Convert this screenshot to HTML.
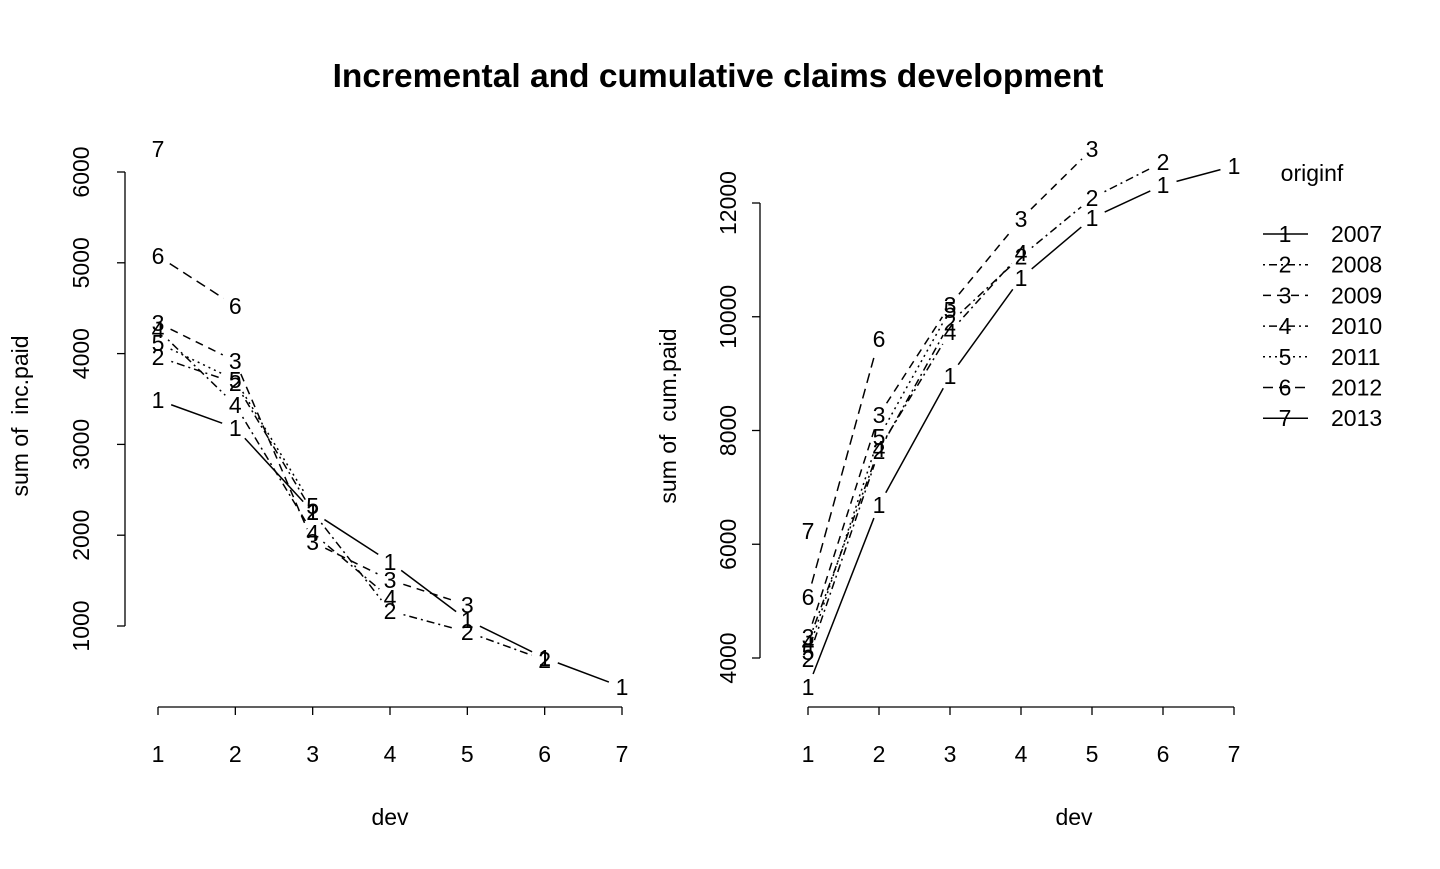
<!DOCTYPE html>
<html><head><meta charset="utf-8"><style>
body{margin:0;background:#fff}
svg text{font-family:"Liberation Sans",Arial,sans-serif;fill:#000;white-space:pre}
</style></head><body>
<svg id="chart" width="1440" height="864" xmlns="http://www.w3.org/2000/svg">
<text x="718" y="87" font-size="33.5" font-weight="bold" text-anchor="middle">Incremental and cumulative claims development</text>
<g id="left"></g>
<g id="right"></g>
<g id="legend"></g>
</svg>
<script>
const devs = [1,2,3,4,5,6,7];
const years = ["2007","2008","2009","2010","2011","2012","2013"];
const incPaid = [
 [3489,3181,2256,1705,1066,648,328],
 [3963,3676,2256,1165,934,626],
 [4337,3918,1925,1507,1231],
 [4260,3434,2024,1308],
 [4117,3709,2322],
 [5075,4524],
 [6253]
];
const cumPaid = [
 [3490,6690,8958,10681,11736,12316,12650],
 [3982,7639,9895,11060,12087,12720],
 [4369,8272,10206,11718,12949],
 [4264,7674,9731,11120],
 [4105,7885,10118],
 [5072,9608],
 [6233]
];
const incTicks = [1000,2000,3000,4000,5000,6000];
const cumTicks = [4000,6000,8000,10000,12000];
const dashes = ["", "2,4,8,4", "8,6", "2,4,8,4", "2,4", "10,6", ""];
const NS = "http://www.w3.org/2000/svg";
function mk(parent, tag, attrs, txt){
  const e = document.createElementNS(NS, tag);
  for (const k in attrs) e.setAttribute(k, attrs[k]);
  if (txt !== undefined) e.textContent = txt;
  parent.appendChild(e); return e;
}
function panel(g, data, ticks, cfg){
  const xs = d => cfg.x0 + (d-1)*(cfg.x1-cfg.x0)/6;
  const ys = v => cfg.yA + (v-cfg.vA)*(cfg.yB-cfg.yA)/(cfg.vB-cfg.vA);
  const ya = mk(g,"line",{x1:cfg.ax,x2:cfg.ax,y1:ys(ticks[0]),y2:ys(ticks[ticks.length-1]),stroke:"#000","stroke-width":1.3});
  
  
  ticks.forEach(t=>{
    const tk = mk(g,"line",{x1:cfg.ax-8,x2:cfg.ax,y1:ys(t),y2:ys(t),stroke:"#000","stroke-width":1.3});
    
    
    const lx = cfg.ax-cfg.lo, ly = ys(t);
    const lb = mk(g,"text",{x:lx,y:ly+8,"font-size":23,"text-anchor":"middle",transform:`rotate(-90 ${lx} ${ly})`},t);
    
    
  });
  const xa = mk(g,"line",{x1:xs(1),x2:xs(7),y1:707,y2:707,stroke:"#000","stroke-width":1.3});
  
  
  devs.forEach(d=>{
    const tk = mk(g,"line",{x1:xs(d),x2:xs(d),y1:707,y2:715,stroke:"#000","stroke-width":1.3});
    
    
    const lb = mk(g,"text",{x:xs(d),y:762,"font-size":23,"text-anchor":"middle"},d);
    
    
  });
  const xt = mk(g,"text",{x:cfg.dx,y:825,"font-size":23,"text-anchor":"middle"},"dev");
  
  
  const yt = mk(g,"text",{x:cfg.tx,y:424,"font-size":23,"text-anchor":"middle",transform:`rotate(-90 ${cfg.tx} 416)`},cfg.title);
  
  
  data.forEach((s,i)=>{
    for(let k=0;k<s.length-1;k++){
      const ax=xs(k+1), ay=ys(s[k]), bx=xs(k+2), by=ys(s[k+1]);
      const L=Math.hypot(bx-ax,by-ay), g2=14;
      if(L<=2*g2) continue;
      const ux=(bx-ax)/L, uy=(by-ay)/L;
      const ln = mk(g,"line",{x1:ax+ux*g2,y1:ay+uy*g2,x2:bx-ux*g2,y2:by-uy*g2,stroke:"#000","stroke-width":1.5,"stroke-dasharray":dashes[i]});
      
      
    }
    s.forEach((v,k)=>{
      const t = mk(g,"text",{x:xs(k+1),y:ys(v)+8,"font-size":23,"text-anchor":"middle"},i+1);
      
      
    });
  });
}
panel(document.getElementById('left'), incPaid, incTicks,
 {x0:158,x1:622,ax:125,lo:44,yA:626,vA:1000,yB:172,vB:6000,tx:20,dx:390,title:"sum of  inc.paid"});
panel(document.getElementById('right'), cumPaid, cumTicks,
 {x0:808,x1:1234,ax:760,lo:32,yA:658,vA:4000,yB:203,vB:12000,tx:668,dx:1074,title:"sum of  cum.paid"});
</script>
<script>
(function(){
  const lg = document.getElementById('legend');
  const t = document.createElementNS(NS,"text");
  t.setAttribute('x',1312); t.setAttribute('y',181); t.setAttribute('font-size',23); t.setAttribute('text-anchor','middle');
  t.textContent="originf";
  
  
  lg.appendChild(t);
  years.forEach((y,i)=>{
    const cy = 234 + i*30.7;
    const l = document.createElementNS(NS,"line");
    l.setAttribute('x1',1263); l.setAttribute('x2',1308); l.setAttribute('y1',cy); l.setAttribute('y2',cy);
    l.setAttribute('stroke','#000'); l.setAttribute('stroke-width',1.5);
    if(dashes[i]) l.setAttribute('stroke-dasharray',dashes[i]);
    
    
    lg.appendChild(l);
    const n = document.createElementNS(NS,"text");
    n.setAttribute('x',1285); n.setAttribute('y',cy+8); n.setAttribute('font-size',23); n.setAttribute('text-anchor','middle');
    n.textContent=String(i+1);
    
    
    lg.appendChild(n);
    const e = document.createElementNS(NS,"text");
    e.setAttribute('x',1331); e.setAttribute('y',cy+8); e.setAttribute('font-size',23);
    e.textContent=y;
    
    
    lg.appendChild(e);
  });
})();
</script>
</body></html>
